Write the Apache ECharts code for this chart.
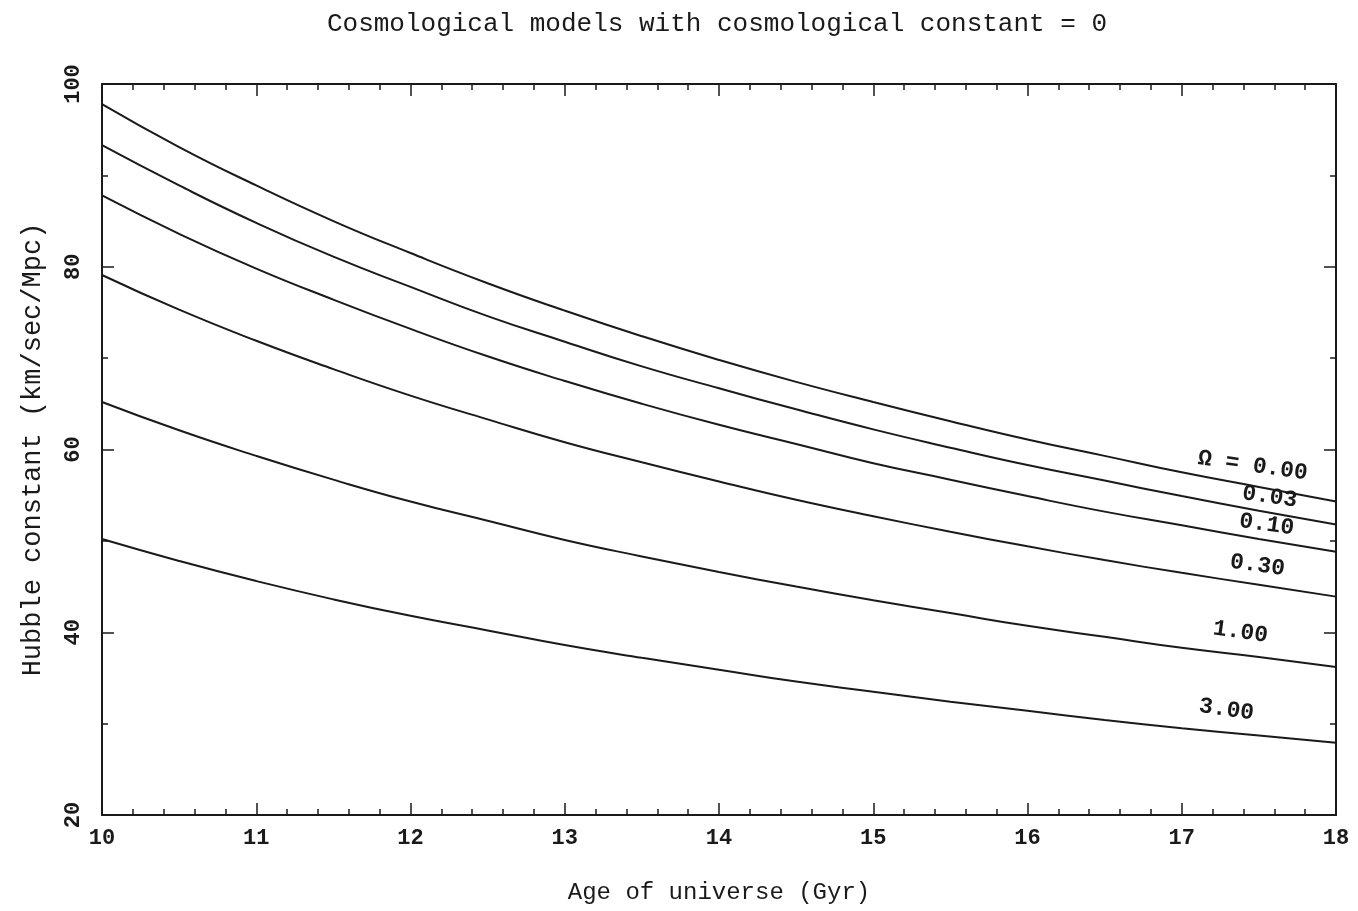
<!DOCTYPE html>
<html><head><meta charset="utf-8">
<script src="https://cdn.jsdelivr.net/npm/echarts@6/dist/echarts.min.js"></script>
<style>html,body{margin:0;padding:0;background:#fff}#c{width:1358px;height:911px}</style>
</head><body><div id="c"></div>
<script>
const ages = [10,10.5,11,11.5,12,12.5,13,13.5,14,14.5,15,15.5,16,16.5,17,17.5,18];
const omega000 = [97.8,93.1,88.9,85.0,81.5,78.2,75.2,72.4,69.8,67.4,65.2,63.1,61.1,59.3,57.5,55.9,54.3];
const omega003 = [93.3,88.9,84.8,81.1,77.8,74.6,71.8,69.1,66.7,64.4,62.2,60.2,58.3,56.6,54.9,53.3,51.8];
const omega010 = [87.8,83.6,79.8,76.4,73.2,70.2,67.5,65.0,62.7,60.6,58.5,56.7,54.9,53.2,51.7,50.2,48.8];
const omega030 = [79.1,75.3,71.9,68.8,65.9,63.3,60.8,58.6,56.5,54.5,52.7,51.0,49.4,47.9,46.5,45.2,43.9];
const omega100 = [65.2,62.1,59.3,56.7,54.3,52.2,50.1,48.3,46.6,45.0,43.5,42.1,40.7,39.5,38.3,37.3,36.2];
const omega300 = [50.2,47.8,45.6,43.6,41.8,40.2,38.6,37.2,35.9,34.6,33.5,32.4,31.4,30.4,29.5,28.7,27.9];
const curveLabels = ['Ω = 0.00','0.03','0.10','0.30','1.00','3.00'];
const labelX = [17.46,17.57,17.55,17.49,17.38,17.29];
const labelY = [58.2,54.8,51.75,47.3,40.0,31.5];
const allSeries = [omega000,omega003,omega010,omega030,omega100,omega300];

const ink = '#1a1a1a';
const mono = '"Liberation Mono", "DejaVu Sans Mono", monospace';

function xAx(pos, show){
  return {type:'value', position:pos, min:10, max:18, interval:1,
    axisLine:{show:true, onZero:false, lineStyle:{color:ink,width:2}},
    axisTick:{show:true, inside:true, length:12, lineStyle:{color:ink,width:1.5}},
    minorTick:{show:true, splitNumber:5, length:6, lineStyle:{color:ink,width:1.5}},
    splitLine:{show:false},
    axisLabel:{show:show, color:ink, fontFamily:mono, fontSize:22, fontWeight:'bold', margin:12},
    name: show ? 'Age of universe (Gyr)' : '', nameLocation:'middle', nameGap:66,
    nameTextStyle:{color:ink, fontFamily:mono, fontSize:24}};
}
function yAx(pos, show){
  return {type:'value', position:pos, min:20, max:100, interval:20,
    axisLine:{show:true, onZero:false, lineStyle:{color:ink,width:2}},
    axisTick:{show:true, inside:true, length:12, lineStyle:{color:ink,width:1.5}},
    minorTick:{show:true, splitNumber:2, length:6, lineStyle:{color:ink,width:1.5}},
    splitLine:{show:false},
    axisLabel:{show:show, rotate:90, color:ink, fontFamily:mono, fontSize:22, fontWeight:'bold', margin:18},
    name: show ? 'Hubble constant (km/sec/Mpc)' : '', nameLocation:'middle', nameGap:56,
    nameTextStyle:{color:ink, fontFamily:mono, fontSize:27}};
}

const series = allSeries.map((vals,i)=>({
  type:'line', xAxisIndex:0, yAxisIndex:0, smooth:true, symbol:'none',
  data: ages.map((a,j)=>[a,vals[j]]),
  lineStyle:{color:ink, width:2},
  markPoint:{symbol:'circle', symbolSize:0, silent:true,
    data:[{coord:[labelX[i],labelY[i]], value:curveLabels[i]}],
    label:{show:true, position:'inside', formatter:curveLabels[i], rotate:-8,
      color:ink, fontFamily:mono, fontSize:23, fontWeight:'bold'}}
}));

const chart = echarts.init(document.getElementById('c'));
chart.setOption({
  animation:false,
  backgroundColor:'#fff',
  title:{text:'Cosmological models with cosmological constant = 0', left:712, top:6, textAlign:'center',
    textStyle:{color:ink, fontFamily:mono, fontSize:26, fontWeight:'normal'}},
  grid:{left:102, right:22, top:84, bottom:96},
  xAxis:[xAx('bottom',true), xAx('top',false)],
  yAxis:[yAx('left',true), yAx('right',false)],
  series:series
});
</script></body></html>
